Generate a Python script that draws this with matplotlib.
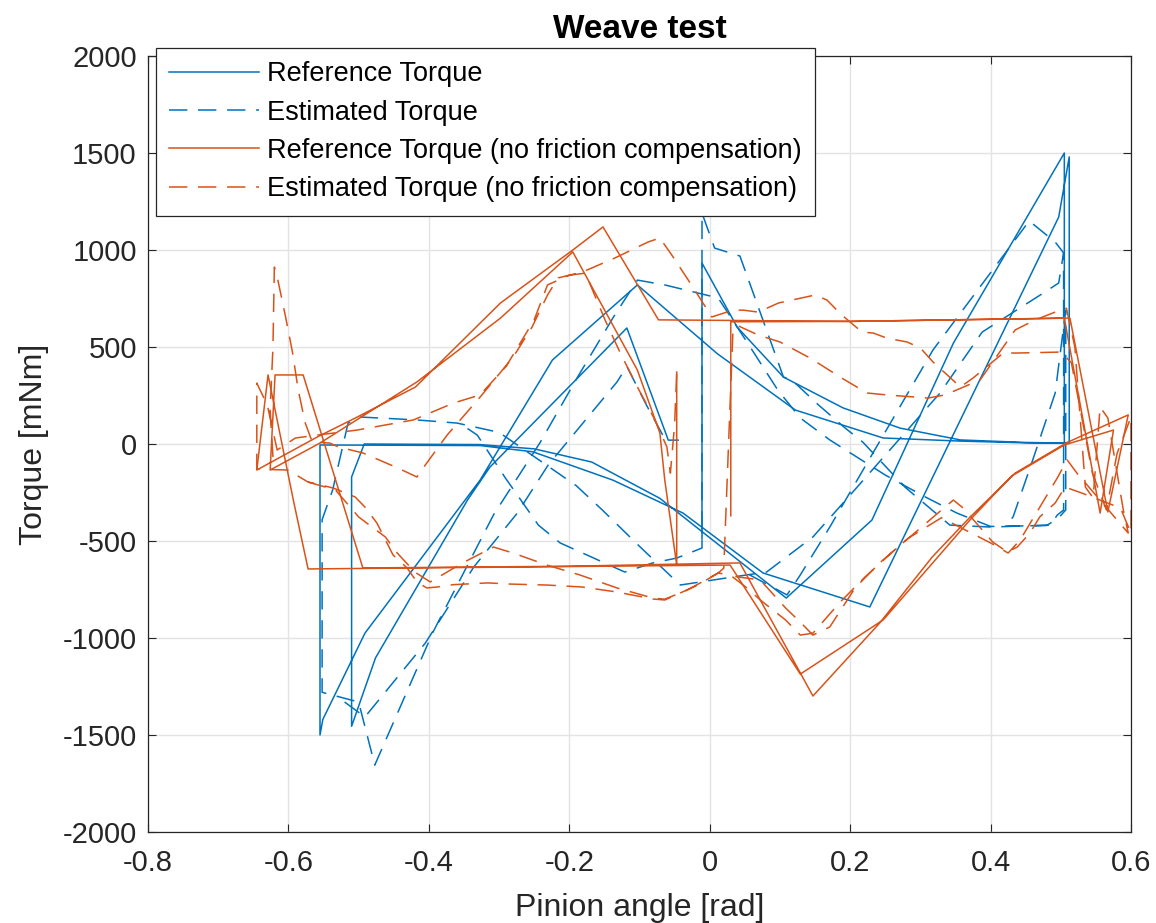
import numpy as np
import matplotlib
matplotlib.use("Agg")
import matplotlib.pyplot as plt

nan = np.nan

# ---------------- data (pinion angle [rad], torque [mNm]) ----------------
ref_angle = [-0.011, -0.011, 0.039, 0.105, 0.19, 0.271, 0.357, 0.45, 0.505, 0.505, 0.347, 0.231, 0.109,
             -0.014, -0.071, -0.168, -0.25, -0.327, -0.492, -0.51, -0.51, -0.476, -0.345, -0.313, -0.118,
             -0.059, -0.045, nan,
             -0.103, 0.011, 0.122, 0.247, 0.357, 0.45, 0.512, 0.512, 0.497, 0.228, 0.076, -0.038, -0.138,
             -0.252, -0.327, -0.555, -0.555, -0.551, -0.491, -0.327, -0.224, -0.103]
ref_torque = [-490, 933, 603, 345, 186, 82, 21, 8, 5, 1500, 520, -392, -794,
              -443, -280, -93, -25, -3, 0, -170, -1455, -1103, -289, -119, 598,
              20, 20, nan,
              820, 465, 175, 31, 15, 6, 5, 1480, 1170, -840, -665, -356, -186,
              -40, -8, -5, -1500, -1420, -975, -186, 433, 820]

est_angle = [-0.345, -0.331, -0.291, -0.244, -0.213, -0.159, -0.121, -0.081, -0.047, -0.011,
             -0.011, 0.007, 0.043, 0.105, 0.117, 0.155, 0.193, 0.218, 0.278, 0.342, 0.4, 0.485, 0.495,
             0.504, 0.504, 0.497, 0.475, 0.388, 0.328, 0.2, 0.147, 0.081, 0.032, -0.042, -0.099, -0.153,
             -0.19, -0.3, -0.36, -0.417, -0.47, -0.498, -0.515, -0.537, -0.552, -0.552, -0.5, -0.477,
             -0.394, -0.308, -0.242, -0.189, -0.137, -0.103, -0.064, 0.012, 0.053, 0.097, 0.129, 0.171,
             0.25, 0.307, 0.352, 0.4, 0.48, 0.497, 0.507, 0.507, 0.492, 0.459, 0.432, 0.42, nan,
             -0.52, -0.491, -0.405, -0.336, -0.274, -0.23, -0.132, -0.118, -0.09, -0.06, nan,
             0.057, 0.11, 0.129, 0.171, 0.318, 0.455, 0.492, 0.504]
est_torque = [80, 46, -175, -418, -510, -598, -660, -613, -588, -536,
              1190, 1010, 969, 345, 330, 201, 82, 10, -222, -418, -428, -418, -366,
              -340, 985, 830, 778, 577, 263, -263, -479, -660, -686, -727, -531, -340,
              -215, 60, 108, 124, 134, 139, 108, -237, -390, -1280, -1330, -1655,
              -969, -366, 5, 340, 655, 845, 820, 753, 526, 278, 134, 21,
              -160, -273, -356, -425, -420, -380, -340, 690, 263, -93, -376, -425, nan,
              -1330, -1407, -1026, -634, -356, -108, 320, 400, 200, 0, nan,
              -675, -778, -675, -428, 485, 1150, 1041, 985]

ref_nf_angle = [0.03, 0.03, 0.2, 0.505, 0.556, 0.575, 0.505, 0.43, 0.371, 0.247, 0.129, 0.029, -0.3,
                -0.572, -0.593, -0.629, -0.645, -0.559, -0.502, -0.419, -0.298, -0.195, -0.152, -0.073,
                0.2, 0.513, 0.567, 0.596, 0.509, 0.435, 0.371, 0.317, 0.242, 0.147, 0.043, -0.2, -0.494,
                -0.502, -0.579, -0.619, -0.626, -0.555, -0.417, -0.298, -0.195, -0.103, -0.071, -0.064,
                -0.047, -0.047]
ref_nf_torque = [-370, 630, 632, 649, -356, 72, -5, -165, -390, -907, -1186, -624, -635,
                 -644, -289, 356, -134, 36, 139, 294, 727, 1000, 1119, 640,
                 632, 649, -350, 150, 8, -150, -376, -582, -923, -1299, -613, -630, -639,
                 -546, 356, 356, -134, 5, 320, 649, 990, 381, 57, -186,
                 -624, 371]

est_nf_angle = [-0.622, -0.626, -0.622, -0.62, -0.615, -0.604, -0.594, -0.586, -0.576, -0.566, -0.541,
                -0.529, -0.494, -0.444, -0.417, -0.405, -0.374, -0.327, -0.28, -0.253, -0.231, -0.216,
                -0.181, -0.135, -0.088, -0.071, -0.054, -0.024, 0.003, 0.033, 0.048, 0.069, 0.098, 0.15,
                0.167, 0.188, 0.217, 0.233, 0.252, 0.281, 0.3, 0.318, 0.357, 0.375, 0.418, 0.438, 0.5,
                0.515, 0.545, 0.565, 0.58, 0.6, 0.6, 0.585, 0.53, 0.506, 0.492, 0.47, 0.456, 0.438, 0.424,
                0.403, 0.361, 0.347, 0.335, 0.3, 0.26, 0.221, 0.186, 0.147, 0.129, 0.108, 0.072, 0.053,
                0.029, 0.012, -0.017, -0.064, -0.081, -0.132, -0.182, -0.232, -0.284, -0.316, -0.365,
                -0.388, -0.403, -0.417, -0.431, -0.451, -0.474, -0.491, -0.505, -0.536, -0.572, -0.601,
                -0.645, -0.645, -0.63, -0.616, -0.59, -0.55, -0.502, -0.422, -0.365, -0.327, -0.29, -0.25,
                -0.231, -0.2, -0.177, -0.149, -0.128, -0.103, -0.078, -0.061, -0.056, -0.05, -0.047, nan,
                -0.572, -0.533, -0.5, -0.462, -0.445, -0.42, -0.398, -0.352, -0.308, -0.28, -0.232,
                -0.185, -0.132, -0.081, -0.064, -0.032, 0.012, 0.02, 0.033, 0.04, 0.069, 0.1, 0.143,
                0.188, 0.224, 0.252, 0.311, 0.335, 0.385, 0.435, 0.463, 0.499, 0.508, 0.52, 0.535,
                0.546, 0.556, 0.567, 0.589, 0.596, 0.523, 0.509, 0.495, 0.466, 0.442, 0.425, 0.4, 0.33,
                0.283, 0.242, 0.207, 0.171, 0.147, 0.129, 0.108, 0.072, 0.03]
est_nf_torque = [-67, 175, 500, 912, 845, 655, 469, 278, 108, 10, 5,
                 -15, -46, -124, -170, -108, 46, 242, 448, 603, 768, 856,
                 887, 959, 1041, 1062, 974, 809, 655, 690, 690, 680, 727, 768,
                 742, 665, 577, 572, 546, 526, 495, 423, 294, 340, 469, 469, 474,
                 420, -150, -340, -50, 140, -460, -330, -253, -222, -304, -376, -459, -531, -557,
                 -505, -330, -289, -325, -433, -557, -686, -814, -975, -985, -907, -804, -742,
                 -675, -665, -727, -804, -799, -763, -737, -727, -722, -716, -725,
                 -737, -742, -711, -639, -572, -407, -325, -273, -227, -196, -134,
                 -130, 314, 200, -31, 31, 50, 72, 124, 211, 253, 400, 640,
                 820, 870, 881, 639, 474, 294, 124, -15, -150, 100, 370, nan,
                 -196, -237, -376, -479, -562, -660, -711, -613, -531, -562, -624,
                 -675, -742, -794, -800, -753, -665, -640, 577, 610, 562, 526, 443,
                 340, 263, 253, 237, 253, 330, 588, 639, 690, 700, 500, -222,
                 -278, 191, 134, -340, -459, -150, -82, -175, -350, -495, -562, -510, -380,
                 -485, -613, -742, -943, -985, -918, -845, -701, -680]

labels = ["Reference Torque", "Estimated Torque",
          "Reference Torque (no friction compensation)",
          "Estimated Torque (no friction compensation)"]
x_ticks = [-0.8, -0.6, -0.4, -0.2, 0, 0.2, 0.4, 0.6]
x_tick_labels = ["-0.8", "-0.6", "-0.4", "-0.2", "0", "0.2", "0.4", "0.6"]
y_ticks = [-2000, -1500, -1000, -500, 0, 500, 1000, 1500, 2000]
y_tick_labels = ["-2000", "-1500", "-1000", "-500", "0", "500", "1000", "1500", "2000"]

# ---------------- style ----------------
plt.rcParams['font.family'] = ['Liberation Sans', 'DejaVu Sans']
plt.rcParams['axes.unicode_minus'] = False

blue = '#0072BD'
orange = '#D95319'

fig = plt.figure(figsize=(11.56, 9.23), dpi=100)
ax = fig.add_axes([0.128, 0.0986, 0.8504, 0.8407])

lw = 1.1
dash = (12, 7)
ax.plot(ref_angle, ref_torque, color=blue, lw=lw, label=labels[0])
ax.plot(est_angle, est_torque, color=blue, lw=lw, ls='--', dashes=dash, label=labels[1])
ax.plot(ref_nf_angle, ref_nf_torque, color=orange, lw=lw, label=labels[2])
ax.plot(est_nf_angle, est_nf_torque, color=orange, lw=lw, ls='--', dashes=dash, label=labels[3])

ax.set_xlim(-0.8, 0.6)
ax.set_ylim(-2000, 2000)
ax.set_xticks(x_ticks)
ax.set_xticklabels(x_tick_labels)
ax.set_yticks(y_ticks)
ax.set_yticklabels(y_tick_labels)
ax.tick_params(direction='in', length=6, width=0.8, labelsize=21, top=True, right=True,
               colors='#262626')
ax.tick_params(axis='x', pad=12)
ax.tick_params(axis='y', pad=8)
ax.grid(True, color='#e3e3e3', lw=1.0)
ax.set_axisbelow(True)
for s in ax.spines.values():
    s.set_color('#262626')
    s.set_linewidth(0.9)

ax.set_xlabel("Pinion angle [rad]", fontsize=23, color='#262626', labelpad=12)
ax.set_ylabel("Torque [mNm]", fontsize=23, color='#262626', labelpad=10)
ax.set_title("Weave test", fontsize=24, fontweight='bold', pad=13)

leg = ax.legend(loc='upper left', bbox_to_anchor=(0.008, 1.0105), borderaxespad=0,
                fontsize=19.5, handlelength=3.3, handletextpad=0.3, labelspacing=0.45,
                borderpad=0.5, fancybox=False, framealpha=1, edgecolor='#262626')
leg.get_frame().set_linewidth(0.9)

fig.savefig("out.png", dpi=100)
